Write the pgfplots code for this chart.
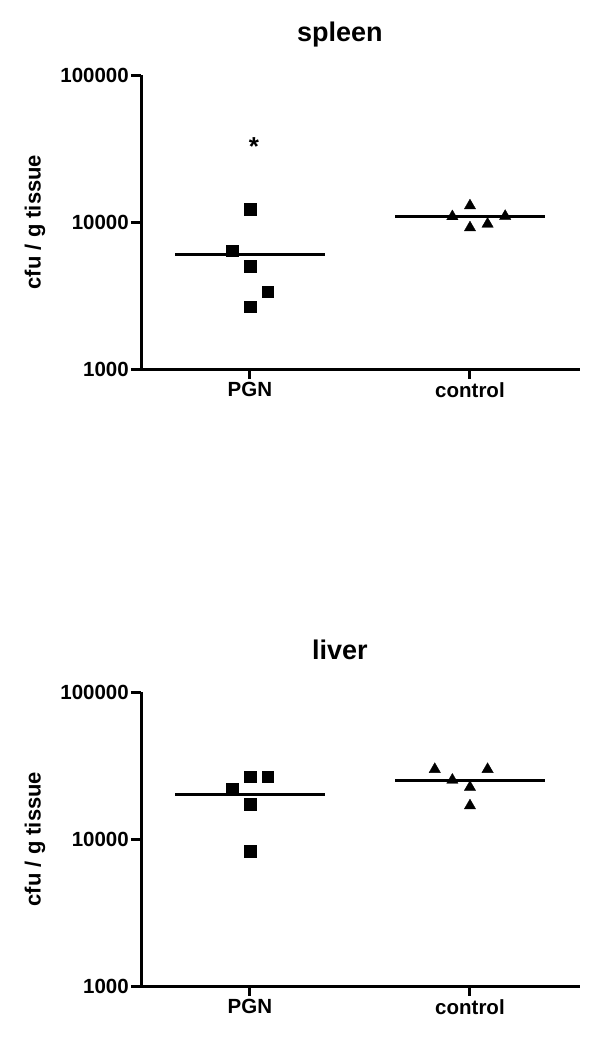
\documentclass[border=0pt]{standalone}
\usepackage{fontspec}
\setmainfont{Liberation Sans}
\usepackage{pgfplots}
\pgfplotsset{compat=1.18}
\begin{document}
\begin{tikzpicture}
\useasboundingbox (0pt,0pt) rectangle (600pt,-1045pt);
% spleen
\begin{axis}[
    at={(141pt,-369pt)}, anchor=south west,
    scale only axis, width=439pt, height=294pt,
    ymode=log, ymin=1000, ymax=100000,
    xmin=-0.495, xmax=1.5,
    axis lines=left,
    axis line style={line width=3pt,-},
    ytick={1000,10000,100000},
    yticklabels={1000,10000,100000},
    yminorticks=false,
    xtick={0,1}, xticklabels={PGN,control},
    tick align=outside, major tick length=10pt,
    tick style={line width=3pt, black},
    ticklabel style={font=\bfseries\fontsize{20.5}{20.5}\selectfont},
    yticklabel style={inner sep=2pt},
    xticklabel style={inner sep=3pt},
    title={spleen},
    title style={font=\bfseries\fontsize{27}{27}\selectfont, at={(axis description cs:0.453,1)}, anchor=base, yshift=28pt},
    ylabel={cfu / g tissue},
    ylabel style={font=\bfseries\fontsize{22}{22}\selectfont, at={(axis description cs:-0.2415,0.5)}, rotate=0, anchor=center},
    clip=false,
]
\addplot[only marks, mark=square*, mark size=5.8pt, mark options={fill=black, draw=black, line width=0.3pt}] coordinates {(0,12250) (-0.08,6380) (0,5020) (0.08,3357) (0,2654)};
\addplot[line width=3pt, black, no marks] coordinates {(-0.34,5965) (0.34,5965)};
\addplot[only marks, mark=triangle*, mark size=6.6pt, mark options={fill=black, draw=black, line width=0.3pt}] coordinates {(1,12910) (0.92,10900) (1.16,10950) (1,9150) (1.08,9690)};
\addplot[line width=3pt, black, no marks] coordinates {(0.66,10870) (1.34,10870)};
\node[font=\bfseries\fontsize{26}{26}\selectfont, anchor=base] at (axis cs:0.018,28200) {*};
\end{axis}
% liver
\begin{axis}[
    at={(141pt,-986pt)}, anchor=south west,
    scale only axis, width=439pt, height=294pt,
    ymode=log, ymin=1000, ymax=100000,
    xmin=-0.495, xmax=1.5,
    axis lines=left,
    axis line style={line width=3pt,-},
    ytick={1000,10000,100000},
    yticklabels={1000,10000,100000},
    yminorticks=false,
    xtick={0,1}, xticklabels={PGN,control},
    tick align=outside, major tick length=10pt,
    tick style={line width=3pt, black},
    ticklabel style={font=\bfseries\fontsize{20.5}{20.5}\selectfont},
    yticklabel style={inner sep=2pt},
    xticklabel style={inner sep=3pt},
    title={liver},
    title style={font=\bfseries\fontsize{27}{27}\selectfont, at={(axis description cs:0.453,1)}, anchor=base, yshift=27pt},
    ylabel={cfu / g tissue},
    ylabel style={font=\bfseries\fontsize{22}{22}\selectfont, at={(axis description cs:-0.2415,0.5)}, rotate=0, anchor=center},
    clip=false,
]
\addplot[only marks, mark=square*, mark size=5.8pt, mark options={fill=black, draw=black, line width=0.3pt}] coordinates {(0,26530) (0.08,26530) (-0.08,21780) (0,17300) (0,8290)};
\addplot[line width=3pt, black, no marks] coordinates {(-0.34,20140) (0.34,20140)};
\addplot[only marks, mark=triangle*, mark size=6.6pt, mark options={fill=black, draw=black, line width=0.3pt}] coordinates {(0.84,29790) (1.08,29790) (0.92,25200) (1,22480) (1,16860)};
\addplot[line width=3pt, black, no marks] coordinates {(0.66,25200) (1.34,25200)};
\end{axis}
\end{tikzpicture}
\end{document}
